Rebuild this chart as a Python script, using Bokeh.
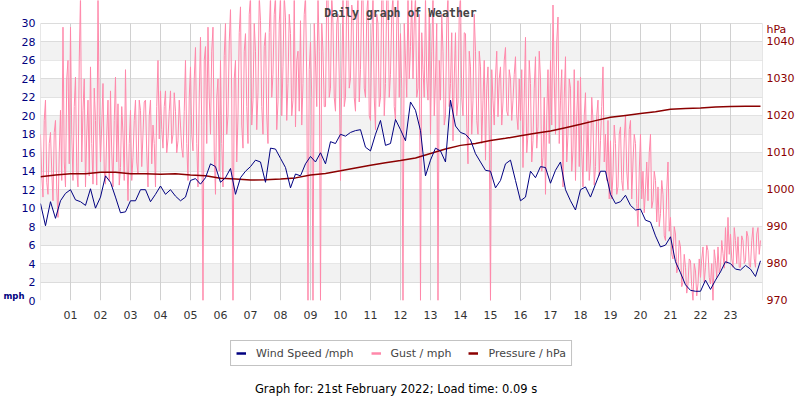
from bokeh.plotting import figure
from bokeh.layouts import column
from bokeh.models import (Range1d, LinearAxis, FixedTicker, Legend, LegendItem,
                          Label)
from bokeh.embed import file_html
from bokeh.resources import INLINE

# ---------------- data ----------------
hour_ticks = list(range(1, 24))
hour_labels = ["%02d" % h for h in hour_ticks]
mph_ticks = list(range(0, 31, 2))
hpa_ticks = list(range(970, 1041, 10))
band_bottoms = [2, 6, 10, 14, 18, 22, 26]

# wind speed, 10-minute samples from 00:00 to 24:00 (mph)
wind_mph = [10.5, 8.1, 10.7, 8.9, 10.8, 11.6,
            12.0, 10.9, 10.7, 10.3, 12.1, 10.0,
            11.2, 13.5, 12.8, 11.2, 9.5, 9.6,
            10.8, 10.8, 12.0, 12.0, 10.7, 11.5,
            12.4, 11.5, 12.0, 11.3, 10.8, 11.2,
            13.0, 13.2, 12.6, 13.3, 14.8, 14.5,
            12.8, 13.3, 14.3, 11.5, 13.3, 14.0,
            14.5, 15.2, 15.0, 12.8, 16.5, 16.4,
            15.4, 14.4, 12.2, 13.7, 13.5, 14.8,
            15.6, 15.0, 16.0, 14.8, 17.2, 17.0,
            18.0, 17.8, 18.2, 18.4, 18.5, 16.6,
            16.2, 18.0, 19.5, 16.8, 17.0, 19.6,
            18.5, 17.3, 21.5, 20.6, 18.4, 13.5,
            15.2, 16.5, 16.2, 15.0, 21.7, 18.9,
            18.2, 18.0, 17.4, 15.9, 15.0, 14.1,
            14.0, 12.2, 13.0, 14.8, 15.2, 13.0,
            10.8, 11.2, 14.0, 13.3, 14.5, 14.4,
            12.7, 14.1, 15.0, 12.0, 10.8, 9.8,
            12.0, 12.3, 11.2, 12.6, 14.0, 14.0,
            11.5, 10.5, 10.7, 11.4, 10.3, 9.8,
            9.9, 8.7, 8.5, 7.0, 5.8, 6.0,
            6.9, 4.2, 3.0, 1.7, 1.1, 1.0,
            1.0, 2.2, 1.2, 2.2, 3.1, 4.2,
            4.0, 3.4, 3.3, 3.8, 3.4, 2.6,
            4.3]

# gust, 2.5-minute samples (mph), one row per hour
gust_mph = [
    18, 13.5, 11.2, 19.5, 21.7, 12.8, 11.5, 17, 18.2, 14, 10.8, 18.2, 19.5, 12, 9, 16, 20.6, 13, 29.6, 15, 12.3, 24, 26, 14.8,
    29.6, 18, 13, 21, 24.2, 14, 12.3, 26, 33, 15, 20.6, 24, 12.3, 18, 21.7, 13.5, 25.3, 17, 12.6, 23, 19.5, 12.5, 33, 20,
    15, 19, 23.5, 14, 12.6, 18, 21.7, 13, 22.7, 16, 12.3, 19.5, 24.2, 15, 21.3, 12.5, 14.4, 21, 18, 13, 25, 16, 10.8, 17,
    20.6, 13, 15.5, 19.5, 21.7, 15, 13.7, 21.7, 20.6, 14.5, 18, 21.5, 21.7, 16, 12.3, 20, 21.7, 14.8, 19, 17, 12.3, 21, 26, 17.5,
    22.7, 18.5, 16.5, 21, 22.7, 16, 17.5, 20.5, 22.7, 17, 18, 22.5, 20.5, 16, 17.3, 21.7, 19, 16.5, 15.5, 20.5, 26, 17, 13, 22,
    25.3, 18, 16.2, 24, 27.4, 17, 12.3, 22, 28.5, 19, 0, 26, 27.5, 17, 29.6, 22, 18, 27, 29.6, 16, 11.5, 22, 24, 14,
    26, 17, 12.3, 26.5, 30, 18, 20, 28, 31.5, 22, 0, 24, 26, 15, 20, 29, 31.8, 19, 16.5, 27, 28.9, 21, 17, 31,
    33, 19, 21.7, 30, 27, 18.5, 22.5, 33, 30.3, 21, 18, 27.5, 29, 20, 17, 29, 33, 22, 24.5, 31, 33, 18.5, 21.5, 30,
    33, 20, 25.3, 33, 30.6, 19.5, 23.5, 31, 28.9, 20, 21.7, 33, 18.8, 26, 27, 20.5, 30.3, 19, 23.5, 31, 33, 24, 0, 25,
    28, 22, 0, 30, 26, 21, 33, 27, 0, 30, 27, 21, 21, 33, 33, 22, 23, 33, 30, 22, 20.5, 30, 31, 24,
    13, 24, 33, 21, 22, 33, 33, 23, 24, 32, 31, 22, 20.5, 30, 33, 21.5, 25, 33, 33, 23, 22, 31, 33, 20,
    19.5, 28, 33, 22, 18.5, 31, 30, 21, 22, 33, 33, 20, 23.5, 33, 33, 22, 24.5, 31, 33, 21, 19.5, 30, 33, 22,
    28.9, 23, 0, 30, 26, 22, 33, 24, 27.5, 33, 24, 30, 33, 22, 23, 31, 0, 29, 25, 22, 33, 24, 21.7, 31,
    18, 27, 33, 20, 24, 30, 0, 26, 21.7, 31, 27, 19, 20, 30, 33, 21, 23.5, 29, 17.3, 24, 29, 20, 21.5, 31,
    33, 22, 20, 29, 28.9, 19, 14.8, 27, 25.3, 18, 21.7, 31, 27, 19.5, 18, 27, 25.3, 17, 21.7, 26, 15.2, 23, 25.3, 18,
    0, 25, 21.7, 19, 24.2, 27, 19.9, 24, 25.3, 19, 21.5, 26, 27.4, 20.5, 20, 25, 24, 19.5, 21.7, 24.5, 26.4, 20, 18.5, 24,
    19.5, 25, 14.4, 22, 28.5, 16, 18, 26, 23.5, 15, 17.3, 23, 26.4, 16.5, 18.8, 27, 24, 14, 15.5, 22, 11.5, 20, 25, 17,
    26, 19, 32, 24, 18, 28, 30.7, 17, 21.7, 25, 12.3, 22, 26.4, 15, 18, 24, 23, 14, 16.2, 25, 13, 20, 23.8, 14.5,
    24.2, 16, 12.3, 20, 22.5, 14, 19.5, 13, 15, 22, 19.5, 12.5, 14.5, 20, 21.7, 13.5, 17.3, 21, 25.3, 15, 18, 13, 19.5, 11,
    17.3, 11, 13.7, 19, 17, 11.5, 12.3, 18, 18.8, 13, 11.9, 17.5, 20, 14, 12, 18.5, 19.5, 11, 15, 18, 17, 10.5, 8, 14,
    18, 11, 14, 9.5, 12, 15, 10.8, 16, 18, 10, 10.8, 14, 13, 8.5, 12.3, 8, 9.4, 13, 11.5, 7, 6.5, 12, 15, 7.5,
    9, 5, 4.5, 8, 7.2, 3, 3.6, 6.5, 5.8, 1.5, 2, 5, 3.6, 0.8, 1.8, 4.5, 4.3, 1.5, 0, 4, 3.2, 0.5, 1.8, 4.5,
    2.5, 4.5, 5.8, 2, 3.6, 6, 5.4, 2.5, 1.8, 4, 0, 5.5, 4.3, 2.5, 5.8, 3, 3.6, 6.5, 5.1, 3.5, 7.9, 4, 9, 5,
    7.2, 4.5, 3.6, 7.9, 6.5, 4, 6.9, 3.6, 3.6, 7, 6.5, 4, 4.3, 7.5, 6.9, 3.8, 3.6, 6.5, 7.9, 4.5, 3.6, 7.2, 7.9, 5,
    6.5]

# pressure, 30-minute samples (hPa)
pressure_hpa = [1003.5, 1004.0, 1004.3, 1004.3, 1004.7, 1004.7, 1004.3, 1004.3,
                1004.2, 1004.3, 1004.0, 1003.8, 1003.1, 1002.9, 1002.6, 1002.7,
                1002.9, 1003.2, 1004.0, 1004.4, 1005.1, 1005.9, 1006.6, 1007.3,
                1007.9, 1008.6, 1009.8, 1011.0, 1012.0, 1012.5, 1013.3, 1013.9,
                1014.6, 1015.3, 1015.9, 1016.8, 1017.7, 1018.7, 1019.6, 1020.1,
                1020.6, 1021.1, 1021.8, 1022.0, 1022.1, 1022.4, 1022.5, 1022.6,
                1022.6]

wind_t = [i / 6 for i in range(len(wind_mph))]
gust_t = [i / 24 for i in range(len(gust_mph))]
pres_t = [i / 2 for i in range(len(pressure_hpa))]

# ---------------- main figure ----------------
X_END = 24.067
Y_END = 32.49
MPH_TOP = 30
HPA_PER_MPH = 2.5
HPA_UNIT_TICK = 1043.4   # where the "hPa" unit caption sits on the right axis

WIND_C = "#000080"
GUST_C = "#ff88aa"
PRES_C = "#8b0000"
FONT = "DejaVu Sans"


def bare_axis(ax, standoff, color, size="11px"):
    ax.axis_line_color = None
    ax.major_tick_line_color = None
    ax.minor_tick_line_color = None
    ax.major_tick_out = 0
    ax.major_tick_in = 0
    ax.minor_tick_out = 0
    ax.minor_tick_in = 0
    ax.major_label_standoff = standoff
    ax.major_label_text_font = FONT
    ax.major_label_text_font_size = size
    ax.major_label_text_color = color


p = figure(width=800, height=330, output_backend="svg", toolbar_location=None,
           x_range=Range1d(0, X_END), y_range=Range1d(0, Y_END),
           min_border_left=40, min_border_right=38, min_border_top=0,
           min_border_bottom=30, title=None)
p.outline_line_color = None
p.background_fill_color = "white"
p.border_fill_color = "white"
p.extra_y_ranges = {"hpa": Range1d(970, 970 + Y_END * HPA_PER_MPH)}

# bands
p.quad(left=0, right=X_END, bottom=band_bottoms,
       top=[b + 2 for b in band_bottoms], fill_color="#f2f2f2", line_color=None)

# grid
p.xgrid.visible = False
p.ygrid.ticker = FixedTicker(ticks=mph_ticks)
p.ygrid.grid_line_color = "#dcdcdc"
p.ygrid.grid_line_width = 1
vx = [0] + hour_ticks + [X_END]
p.segment(x0=vx, x1=vx, y0=[0] * len(vx), y1=[MPH_TOP] * len(vx),
          line_color="#d0d0d0", line_width=1)

# series
r_gust = p.line(gust_t, gust_mph, line_color=GUST_C, line_width=1)
r_pres = p.line(pres_t, pressure_hpa, line_color=PRES_C, line_width=1.5,
                y_range_name="hpa")
r_wind = p.line(wind_t, wind_mph, line_color=WIND_C, line_width=1)

# axes
xa = p.xaxis[0]
xa.ticker = FixedTicker(ticks=hour_ticks)
xa.major_label_overrides = {h: l for h, l in zip(hour_ticks, hour_labels)}
bare_axis(xa, 10, "#333333")

ya = p.yaxis[0]
ya.ticker = FixedTicker(ticks=mph_ticks)
bare_axis(ya, 5, WIND_C)

# unit caption "mph" as a second, outer left axis with a single labelled tick
ua = LinearAxis(ticker=FixedTicker(ticks=[0.45]), major_label_overrides={0.45: "mph"})
bare_axis(ua, -6, WIND_C, "8.5px")
ua.major_label_text_font_style = "bold"
p.add_layout(ua, "left")

ra = LinearAxis(y_range_name="hpa",
                ticker=FixedTicker(ticks=hpa_ticks + [HPA_UNIT_TICK]),
                major_label_overrides={HPA_UNIT_TICK: "hPa"})
bare_axis(ra, 4, PRES_C)
p.add_layout(ra, "right")

p.add_layout(Label(x=12.0, y=31.1, text="Daily graph of Weather",
                   text_font="DejaVu Sans Mono", text_font_style="bold",
                   text_font_size="11.5px", text_color="#444444",
                   text_align="center", text_baseline="middle"))

# ---------------- legend / footer strip ----------------
q = figure(width=800, height=70, output_backend="svg", toolbar_location=None,
           x_range=Range1d(0, 800), y_range=Range1d(0, 70), title=None,
           min_border=0, x_axis_type=None, y_axis_type=None)
q.outline_line_color = None
q.xgrid.visible = False
q.ygrid.visible = False

# legend swatches: single-point lines (they draw nothing) with thicker strokes
lg_wind = q.line(wind_t[:1], wind_mph[:1], line_color=WIND_C, line_width=2.5)
lg_gust = q.line(gust_t[:1], gust_mph[:1], line_color=GUST_C, line_width=2.5)
lg_pres = q.line(pres_t[:1], pressure_hpa[:1], line_color=PRES_C, line_width=2.5)

legend = Legend(items=[LegendItem(label="Wind Speed /mph", renderers=[lg_wind]),
                       LegendItem(label="Gust / mph", renderers=[lg_gust]),
                       LegendItem(label="Pressure / hPa", renderers=[lg_pres])],
                orientation="horizontal", location="top_center",
                border_line_color="#888888", border_line_width=1,
                background_fill_color="white", background_fill_alpha=1,
                label_text_font=FONT, label_text_font_size="11px",
                label_height=14, glyph_height=14, glyph_width=10,
                label_standoff=10, spacing=17, padding=5, margin=10)
q.add_layout(legend, "center")

q.add_layout(Label(x=394, y=12,
                   text="Graph for: 21st February 2022; Load time: 0.09 s",
                   text_font=FONT, text_font_size="11.5px", text_color="#000000",
                   text_align="center", text_baseline="middle"))

open("out.html", "w").write(file_html(column(p, q, spacing=0), INLINE))
